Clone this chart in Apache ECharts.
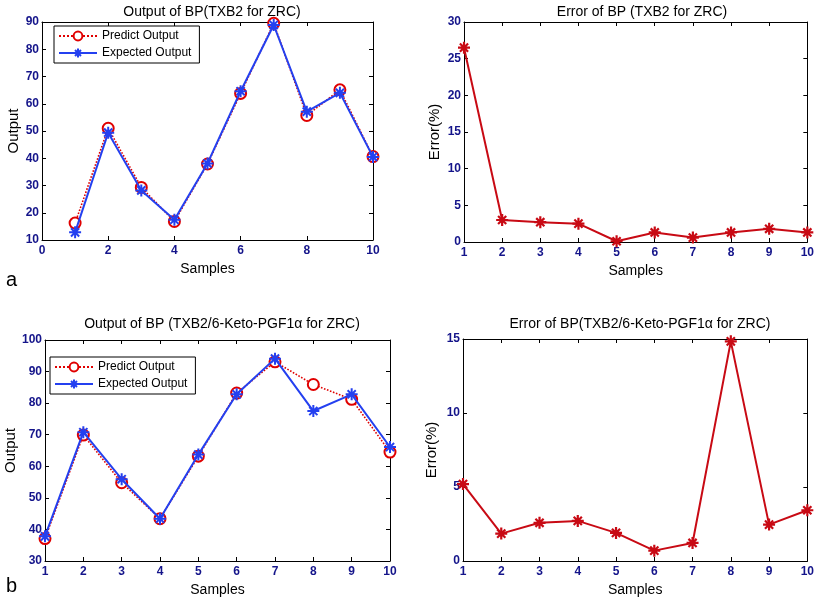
<!DOCTYPE html>
<html>
<head>
<meta charset="utf-8">
<script src="https://cdn.jsdelivr.net/npm/echarts@6/dist/echarts.min.js"></script>
<style>html,body{margin:0;padding:0;background:#fff}#c{width:817px;height:598px}</style>
</head>
<body>
<div id="c"></div>
<script>
var samples = [1,2,3,4,5,6,7,8,9,10];
var predictA  = [16.2, 51.0, 29.3, 16.8, 37.9, 63.8, 89.5, 55.7, 65.1, 40.6];
var expectedA = [12.8, 49.4, 28.2, 17.4, 38.1, 64.6, 88.9, 57.1, 64.0, 40.5];
var errorA    = [26.5, 3.0, 2.7, 2.5, 0.1, 1.3, 0.6, 1.3, 1.8, 1.3];
var predictB  = [37.1, 69.9, 54.8, 43.4, 63.2, 83.2, 93.1, 85.9, 81.2, 64.5];
var expectedB = [37.8, 70.8, 55.9, 43.4, 63.7, 82.8, 94.1, 77.5, 82.8, 66.1];
var errorB    = [5.2, 1.85, 2.58, 2.71, 1.9, 0.7, 1.22, 14.84, 2.46, 3.43];

function pairs(ys){ return samples.map(function(x,i){ return [x, ys[i]]; }); }

var labelColor = '#14148a';
var fontFam = 'Liberation Sans, Arial, sans-serif';
var star = 'path://M5,0L5,10M0,5L10,5M1.6,1.6L8.4,8.4M1.6,8.4L8.4,1.6';

var grids = [
  {left:42, top:22, width:331, height:218},
  {left:464, top:22, width:345, height:220},
  {left:45, top:340, width:345, height:221},
  {left:463, top:339, width:345, height:222}
];
var xr = [[0,10,2],[1,10,1],[1,10,1],[1,10,1]];
var yr = [[10,90,10],[0,30,5],[30,100,10],[0,15,5]];
var ynames = ['Output','Error(%)','Output','Error(%)'];
var ynameGap = [20, 22, 24, 24];

var xAxes = [], yAxes = [];
grids.forEach(function(g, i){
  xAxes.push({type:'value', gridIndex:i, min:xr[i][0], max:xr[i][1], interval:xr[i][2],
    position:'bottom', name:'Samples', nameLocation:'middle', nameGap:22,
    nameTextStyle:{fontFamily:fontFam, fontSize:14, color:'#000'},
    axisLine:{show:true, onZero:false, lineStyle:{color:'#000', width:1}},
    axisTick:{show:true, inside:true, length:4, lineStyle:{color:'#000'}},
    axisLabel:{show:true, color:labelColor, fontFamily:fontFam, fontSize:12, fontWeight:'bold', margin:5},
    splitLine:{show:false}});
  xAxes.push({type:'value', gridIndex:i, min:xr[i][0], max:xr[i][1], interval:xr[i][2],
    position:'top',
    axisLine:{show:true, onZero:false, lineStyle:{color:'#000', width:1}},
    axisTick:{show:true, inside:true, length:4, lineStyle:{color:'#000'}},
    axisLabel:{show:false}, splitLine:{show:false}});
  yAxes.push({type:'value', gridIndex:i, min:yr[i][0], max:yr[i][1], interval:yr[i][2],
    position:'left', name:ynames[i], nameLocation:'middle', nameGap:ynameGap[i],
    nameTextStyle:{fontFamily:fontFam, fontSize:15, color:'#000'},
    axisLine:{show:true, onZero:false, lineStyle:{color:'#000', width:1}},
    axisTick:{show:true, inside:true, length:4, lineStyle:{color:'#000'}},
    axisLabel:{show:true, color:labelColor, fontFamily:fontFam, fontSize:12, fontWeight:'bold', margin:3},
    splitLine:{show:false}});
  yAxes.push({type:'value', gridIndex:i, min:yr[i][0], max:yr[i][1], interval:yr[i][2],
    position:'right',
    axisLine:{show:true, onZero:false, lineStyle:{color:'#000', width:1}},
    axisTick:{show:true, inside:true, length:4, lineStyle:{color:'#000'}},
    axisLabel:{show:false}, splitLine:{show:false}});
});

function predictSeries(ys, gi){
  return {name:'Predict Output', type:'line', xAxisIndex:gi*2, yAxisIndex:gi*2, data:pairs(ys),
    symbol:'emptyCircle', symbolSize:11,
    lineStyle:{color:'#e00000', width:1.6, type:'dotted'},
    itemStyle:{color:'#e00000', borderColor:'#e00000', borderWidth:1.6},
    z:2, animation:false};
}
function expectedSeries(ys, gi){
  return {name:'Expected Output', type:'line', xAxisIndex:gi*2, yAxisIndex:gi*2, data:pairs(ys),
    symbol:star, symbolSize:12,
    lineStyle:{color:'#2440f0', width:2},
    itemStyle:{color:'transparent', borderColor:'#2440f0', borderWidth:2},
    z:3, animation:false};
}
function errorSeries(ys, gi){
  return {name:'Error'+gi, type:'line', xAxisIndex:gi*2, yAxisIndex:gi*2, data:pairs(ys),
    symbol:star, symbolSize:12,
    lineStyle:{color:'#c80a14', width:2},
    itemStyle:{color:'transparent', borderColor:'#c80a14', borderWidth:2.2},
    animation:false};
}

var legendBase = {orient:'vertical', data:['Predict Output','Expected Output'],
  backgroundColor:'#fff', borderColor:'#000', borderWidth:1, padding:[4,8,4,4],
  itemWidth:38, itemHeight:11, itemGap:5, selectedMode:false,
  textStyle:{fontFamily:fontFam, fontSize:12, color:'#000'}};

var option = {
  backgroundColor:'#fff',
  animation:false,
  title:[
    {text:'Output of BP(TXB2 for ZRC)', left:207, top:0, textAlign:'center', textStyle:{fontFamily:fontFam, fontSize:14, fontWeight:'normal', color:'#000'}},
    {text:'Error of BP (TXB2 for ZRC)', left:637, top:0, textAlign:'center', textStyle:{fontFamily:fontFam, fontSize:14, fontWeight:'normal', color:'#000'}},
    {text:'Output of BP (TXB2/6-Keto-PGF1α for ZRC)', left:217, top:312, textAlign:'center', textStyle:{fontFamily:fontFam, fontSize:14, fontWeight:'normal', color:'#000'}},
    {text:'Error of BP(TXB2/6-Keto-PGF1α for ZRC)', left:635, top:312, textAlign:'center', textStyle:{fontFamily:fontFam, fontSize:14, fontWeight:'normal', color:'#000'}}
  ],
  legend:[
    Object.assign({}, legendBase, {left:54, top:26}),
    Object.assign({}, legendBase, {left:50, top:357})
  ],
  grid:grids,
  xAxis:xAxes,
  yAxis:yAxes,
  series:[
    predictSeries(predictA,0), expectedSeries(expectedA,0),
    errorSeries(errorA,1),
    predictSeries(predictB,2), expectedSeries(expectedB,2),
    errorSeries(errorB,3)
  ],
  graphic:[
    {type:'text', left:6, top:270, style:{text:'a', fontFamily:fontFam, fontSize:20, fill:'#000'}},
    {type:'text', left:6, top:576, style:{text:'b', fontFamily:fontFam, fontSize:20, fill:'#000'}}
  ]
};
var chart = echarts.init(document.getElementById('c'), null, {renderer:'canvas'});
chart.setOption(option);
</script>
</body>
</html>
